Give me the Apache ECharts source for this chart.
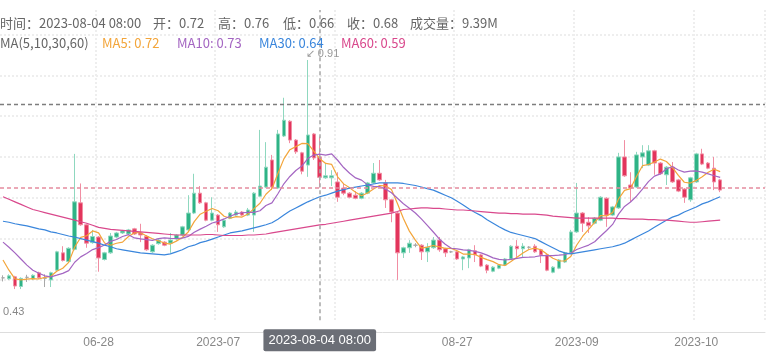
<!DOCTYPE html>
<html>
<head>
<meta charset="utf-8">
<title>K线</title>
<script src="https://cdn.jsdelivr.net/npm/echarts/dist/echarts.min.js"></script>
<style>
    html, body { margin: 0; padding: 0; background: #fff; }
    #main { width: 768px; height: 353px; }
</style>
</head>
<body>
<div id="main"></div>
<script>
// daily candles
var opens = [
    0.483, 0.481, 0.485, 0.466, 0.484, 0.481, 0.493, 0.482, 0.479, 0.498,
    0.532, 0.515, 0.539, 0.630, 0.587, 0.552, 0.563, 0.519, 0.532, 0.563,
    0.571, 0.569, 0.579, 0.571, 0.564, 0.534, 0.550, 0.553, 0.551, 0.559,
    0.567, 0.577, 0.610, 0.649, 0.630, 0.596, 0.606, 0.583, 0.600, 0.606,
    0.612, 0.606, 0.606, 0.643, 0.661, 0.714, 0.659, 0.761, 0.790, 0.753,
    0.728, 0.704, 0.765, 0.720, 0.679, 0.679, 0.671, 0.659, 0.649, 0.645,
    0.639, 0.649, 0.669, 0.688, 0.669, 0.636, 0.610, 0.532, 0.542, 0.547,
    0.547, 0.534, 0.542, 0.557, 0.540, 0.534, 0.534, 0.520, 0.522, 0.536,
    0.528, 0.508, 0.496, 0.502, 0.508, 0.520, 0.545, 0.540, 0.543, 0.545,
    0.538, 0.528, 0.494, 0.502, 0.514, 0.532, 0.573, 0.610, 0.592, 0.590,
    0.596, 0.639, 0.606, 0.620, 0.720, 0.665, 0.661, 0.720, 0.704, 0.732,
    0.708, 0.685, 0.700, 0.675, 0.657, 0.636, 0.671, 0.726, 0.708, 0.698,
    0.675
];
var closes = [
    0.483, 0.487, 0.467, 0.482, 0.484, 0.488, 0.483, 0.482, 0.493, 0.534,
    0.517, 0.541, 0.632, 0.587, 0.551, 0.564, 0.522, 0.532, 0.565, 0.571,
    0.575, 0.577, 0.569, 0.567, 0.538, 0.547, 0.557, 0.547, 0.557, 0.567,
    0.583, 0.610, 0.649, 0.630, 0.596, 0.610, 0.587, 0.596, 0.610, 0.612,
    0.606, 0.616, 0.649, 0.663, 0.700, 0.661, 0.765, 0.792, 0.753, 0.730,
    0.692, 0.763, 0.718, 0.680, 0.683, 0.683, 0.641, 0.649, 0.641, 0.639,
    0.649, 0.669, 0.688, 0.675, 0.636, 0.612, 0.532, 0.542, 0.551, 0.547,
    0.534, 0.543, 0.557, 0.538, 0.532, 0.534, 0.520, 0.524, 0.538, 0.528,
    0.506, 0.498, 0.504, 0.508, 0.520, 0.545, 0.540, 0.545, 0.543, 0.534,
    0.528, 0.498, 0.504, 0.518, 0.532, 0.573, 0.610, 0.590, 0.585, 0.600,
    0.641, 0.606, 0.622, 0.720, 0.683, 0.659, 0.724, 0.728, 0.732, 0.708,
    0.687, 0.700, 0.671, 0.653, 0.641, 0.679, 0.726, 0.706, 0.698, 0.671,
    0.655
];
var lows = [
    0.476, 0.479, 0.461, 0.461, 0.475, 0.479, 0.481, 0.465, 0.465, 0.496,
    0.515, 0.513, 0.537, 0.585, 0.542, 0.550, 0.495, 0.517, 0.530, 0.561,
    0.569, 0.567, 0.567, 0.553, 0.536, 0.532, 0.548, 0.545, 0.532, 0.557,
    0.565, 0.575, 0.608, 0.628, 0.594, 0.594, 0.573, 0.581, 0.598, 0.604,
    0.604, 0.604, 0.573, 0.641, 0.659, 0.655, 0.657, 0.759, 0.747, 0.726,
    0.686, 0.681, 0.714, 0.660, 0.677, 0.663, 0.632, 0.645, 0.639, 0.637,
    0.637, 0.647, 0.667, 0.673, 0.620, 0.592, 0.479, 0.522, 0.532, 0.543,
    0.518, 0.514, 0.540, 0.534, 0.524, 0.532, 0.518, 0.498, 0.502, 0.514,
    0.504, 0.492, 0.494, 0.500, 0.506, 0.518, 0.524, 0.524, 0.540, 0.532,
    0.512, 0.496, 0.492, 0.500, 0.512, 0.530, 0.571, 0.573, 0.571, 0.588,
    0.594, 0.583, 0.604, 0.618, 0.681, 0.632, 0.659, 0.698, 0.702, 0.685,
    0.685, 0.665, 0.669, 0.651, 0.630, 0.632, 0.669, 0.704, 0.696, 0.655,
    0.651
];
var highs = [
    0.488, 0.490, 0.487, 0.484, 0.489, 0.490, 0.495, 0.490, 0.495, 0.536,
    0.545, 0.543, 0.726, 0.668, 0.589, 0.577, 0.565, 0.534, 0.571, 0.573,
    0.577, 0.579, 0.581, 0.589, 0.567, 0.549, 0.559, 0.555, 0.571, 0.569,
    0.585, 0.645, 0.687, 0.663, 0.632, 0.641, 0.608, 0.598, 0.612, 0.616,
    0.614, 0.620, 0.651, 0.773, 0.749, 0.724, 0.773, 0.836, 0.792, 0.755,
    0.730, 0.910, 0.767, 0.760, 0.708, 0.694, 0.690, 0.667, 0.651, 0.653,
    0.651, 0.671, 0.708, 0.714, 0.675, 0.638, 0.612, 0.544, 0.557, 0.551,
    0.549, 0.551, 0.563, 0.563, 0.542, 0.536, 0.536, 0.526, 0.540, 0.547,
    0.530, 0.510, 0.506, 0.510, 0.522, 0.547, 0.557, 0.551, 0.545, 0.549,
    0.540, 0.530, 0.506, 0.520, 0.534, 0.577, 0.669, 0.612, 0.602, 0.602,
    0.643, 0.641, 0.624, 0.728, 0.753, 0.690, 0.730, 0.743, 0.743, 0.734,
    0.710, 0.702, 0.710, 0.677, 0.659, 0.681, 0.728, 0.736, 0.710, 0.720,
    0.677
];
// long averages (history before the window is not shown)
var ma30 = [
    0.594, 0.592, 0.589, 0.587, 0.585, 0.582, 0.579, 0.577, 0.573, 0.571,
    0.568, 0.565, 0.563, 0.560, 0.557, 0.554, 0.551, 0.547, 0.544, 0.540,
    0.538, 0.536, 0.534, 0.532, 0.531, 0.530, 0.529, 0.528, 0.530, 0.534,
    0.538, 0.544, 0.547, 0.552, 0.555, 0.559, 0.563, 0.567, 0.571, 0.573,
    0.575, 0.578, 0.581, 0.584, 0.587, 0.591, 0.598, 0.606, 0.614, 0.620,
    0.626, 0.632, 0.637, 0.642, 0.645, 0.649, 0.653, 0.656, 0.659, 0.661,
    0.663, 0.665, 0.667, 0.669, 0.669, 0.669, 0.669, 0.668, 0.666, 0.664,
    0.661, 0.658, 0.655, 0.650, 0.645, 0.640, 0.633, 0.626, 0.618, 0.611,
    0.605, 0.597, 0.590, 0.583, 0.577, 0.572, 0.569, 0.566, 0.563, 0.560,
    0.554, 0.548, 0.542, 0.536, 0.532, 0.530, 0.532, 0.534, 0.536, 0.538,
    0.540, 0.542, 0.544, 0.547, 0.551, 0.557, 0.563, 0.569, 0.575, 0.582,
    0.589, 0.596, 0.602, 0.606, 0.612, 0.617, 0.622, 0.628, 0.632, 0.637,
    0.642
];
var ma60 = [
    0.642, 0.637, 0.632, 0.627, 0.622, 0.617, 0.614, 0.611, 0.608, 0.605,
    0.602, 0.599, 0.596, 0.593, 0.590, 0.586, 0.582, 0.580, 0.578, 0.577,
    0.576, 0.575, 0.574, 0.573, 0.572, 0.571, 0.570, 0.569, 0.568, 0.567,
    0.567, 0.567, 0.567, 0.567, 0.568, 0.568, 0.567, 0.566, 0.566, 0.566,
    0.566, 0.567, 0.567, 0.568, 0.569, 0.571, 0.573, 0.575, 0.577, 0.579,
    0.581, 0.583, 0.585, 0.587, 0.588, 0.590, 0.592, 0.594, 0.596, 0.598,
    0.600, 0.602, 0.604, 0.606, 0.608, 0.610, 0.613, 0.617, 0.618, 0.619,
    0.620, 0.620, 0.619, 0.619, 0.618, 0.617, 0.616, 0.616, 0.615, 0.614,
    0.613, 0.612, 0.611, 0.610, 0.610, 0.609, 0.609, 0.608, 0.608, 0.608,
    0.607, 0.606, 0.604, 0.603, 0.602, 0.601, 0.600, 0.600, 0.600, 0.600,
    0.600, 0.600, 0.600, 0.599, 0.599, 0.598, 0.598, 0.598, 0.597, 0.597,
    0.596, 0.596, 0.595, 0.594, 0.593, 0.592, 0.592, 0.593, 0.594, 0.595,
    0.596
];
// first points of the short averages
var ma5Head = [0.518, 0.498, 0.481, 0.479];
var ma10Head = [0.553, 0.543, 0.532, 0.520, 0.508, 0.498, 0.492, 0.487, 0.485];

var firstDay = '2023-06-12';
var emptyDays = 7;
var tickDates = ['2023-06-28', '2023-07-18', '2023-08-07', '2023-08-27', '2023-09-16', '2023-10-06'];
var tickLabels = ['06-28', '2023-07', '2023-08', '08-27', '2023-09', '2023-10'];

var tipIndex = 53;
var tipVolume = '9.39M';
var pointerPrice = 0.824;
var lowestLow = 0.43;

var colorMA5 = '#f3a53a';
var colorMA10 = '#a466c2';
var colorMA30 = '#3a86dc';
var colorMA60 = '#d9488c';

function buildDates() {
    var list = [];
    var t0 = Date.parse(firstDay + 'T00:00:00Z');
    for (var i = 0; i < opens.length + emptyDays; i++) {
        var d = new Date(t0 + i * 86400000);
        list.push(d.toISOString().substring(0, 10) + ' 08:00');
    }
    return list;
}

function calcMA(n, head) {
    var out = [];
    for (var i = 0; i < closes.length; i++) {
        if (i < n - 1) {
            out.push(head[i]);
            continue;
        }
        var s = 0;
        for (var j = 0; j < n; j++) {
            s += closes[i - j];
        }
        out.push(+(s / n).toFixed(4));
    }
    return out;
}

function tickIdx(v) {
    return tickDates.indexOf(String(v).substring(0, 10));
}

var dates = buildDates();
var ma5 = calcMA(5, ma5Head);
var ma10 = calcMA(10, ma10Head);
var kdata = [];
for (var i = 0; i < opens.length; i++) {
    kdata.push([opens[i], closes[i], lows[i], highs[i]]);
}

var dotLine = {color: '#eeeeee', width: 2, type: [2, 2]};
var headFont = '13px "Microsoft YaHei", "Noto Sans CJK SC", sans-serif';

function headText(x, y, text, color) {
    return {
        type: 'text',
        x: x,
        y: y,
        z: 100,
        style: {text: text, fill: color, font: headFont, verticalAlign: 'middle'}
    };
}

var row1 = 23, row2 = 43;
var graphics = [
    headText(0, row1, '时间：' + dates[tipIndex], '#666'),
    headText(153, row1, '开：' + opens[tipIndex].toFixed(2), '#666'),
    headText(218, row1, '高：' + highs[tipIndex].toFixed(2), '#666'),
    headText(283, row1, '低：' + lows[tipIndex].toFixed(2), '#666'),
    headText(347, row1, '收：' + closes[tipIndex].toFixed(2), '#666'),
    headText(410, row1, '成交量：' + tipVolume, '#666'),
    headText(0, row2, 'MA(5,10,30,60)', '#666'),
    headText(102, row2, 'MA5: ' + ma5[tipIndex].toFixed(2), colorMA5),
    headText(177, row2, 'MA10: ' + ma10[tipIndex].toFixed(2), colorMA10),
    headText(259, row2, 'MA30: ' + ma30[tipIndex].toFixed(2), colorMA30),
    headText(341, row2, 'MA60: ' + ma60[tipIndex].toFixed(2), colorMA60)
];

function maSeries(name, data, color) {
    return {
        name: name,
        type: 'line',
        data: data,
        showSymbol: false,
        silent: true,
        lineStyle: {width: 1.2, color: color},
        itemStyle: {color: color}
    };
}

var chart = echarts.init(document.getElementById('main'));
chart.setOption({
    animation: false,
    grid: {left: -3, right: 3, top: 10, bottom: 32.8},
    graphic: graphics,
    xAxis: {
        type: 'category',
        data: dates,
        boundaryGap: true,
        offset: 12,
        axisLine: {lineStyle: {color: '#dddddd'}},
        axisTick: {show: false},
        axisLabel: {
            color: '#888',
            fontSize: 12,
            margin: 4,
            interval: function (index, value) {
                return tickIdx(value) >= 0;
            },
            formatter: function (value) {
                var k = tickIdx(value);
                return k >= 0 ? tickLabels[k] : '';
            }
        },
        splitLine: {
            show: true,
            interval: function (index, value) {
                return tickIdx(value) >= 0;
            },
            lineStyle: dotLine
        },
        axisPointer: {
            show: true,
            type: 'line',
            value: tipIndex,
            status: 'show',
            triggerTooltip: false,
            lineStyle: {color: '#a6a6a6', width: 1.5, type: [4, 3]},
            label: {
                show: true,
                margin: -3,
                color: '#fff',
                fontSize: 13,
                padding: [5, 5, 4, 5],
                borderRadius: 2,
                backgroundColor: '#6b6e76'
            }
        }
    },
    yAxis: {
        type: 'value',
        min: 0.40,
        max: 1.008,
        interval: 0.08,
        position: 'right',
        axisLine: {show: false},
        axisTick: {show: false},
        axisLabel: {show: false},
        splitLine: {show: true, showMinLine: false, showMaxLine: false, lineStyle: dotLine},
        axisPointer: {
            show: true,
            type: 'line',
            value: pointerPrice,
            status: 'show',
            triggerTooltip: false,
            lineStyle: {color: '#7d7d7d', width: 1.3, type: [4, 3]},
            label: {show: false}
        }
    },
    series: [
        {
            name: 'K',
            type: 'candlestick',
            data: kdata,
            barWidth: 4,
            silent: true,
            itemStyle: {
                color: '#2fb386',
                color0: '#e2355c',
                borderColor: '#8fd8bf',
                borderColor0: '#f18ea3',
                borderColorDoji: '#a8a8a8',
                borderWidth: 1
            },
            markLine: {
                silent: true,
                symbol: ['none', 'none'],
                label: {show: false},
                lineStyle: {color: '#e58c9f', width: 1.5, type: [4, 3]},
                data: [{yAxis: closes[closes.length - 1]}]
            },
            markPoint: {
                silent: true,
                symbol: 'circle',
                symbolSize: 0,
                data: [
                    {
                        type: 'max',
                        valueDim: 'highest',
                        label: {
                            show: true,
                            position: 'right',
                            distance: 0,
                            offset: [-2, -6],
                            color: '#999',
                            fontSize: 11,
                            formatter: function (p) {
                                return '↙ ' + p.value.toFixed(2);
                            }
                        }
                    },
                    {
                        coord: [0, lowestLow],
                        value: lowestLow,
                        label: {
                            show: true,
                            position: 'right',
                            distance: 0,
                            offset: [0, 7],
                            color: '#888',
                            fontSize: 11,
                            formatter: function (p) {
                                return p.value.toFixed(2);
                            }
                        }
                    }
                ]
            }
        },
        maSeries('MA5', ma5, colorMA5),
        maSeries('MA10', ma10, colorMA10),
        maSeries('MA30', ma30, colorMA30),
        maSeries('MA60', ma60, colorMA60)
    ]
});
</script>
</body>
</html>
